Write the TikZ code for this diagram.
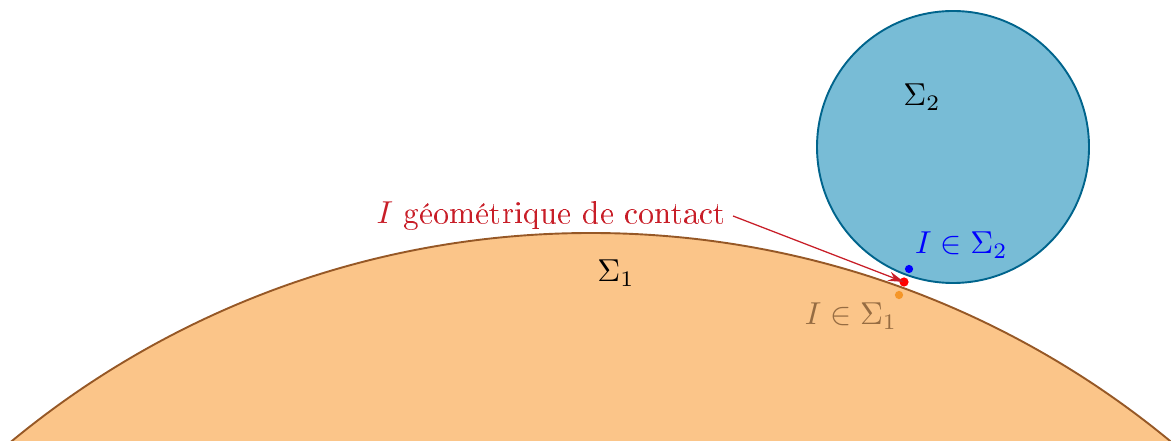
\documentclass[tikz,border=0pt]{standalone}
\usepackage[T1]{fontenc}
\usetikzlibrary{arrows.meta}

\definecolor{surfone}{RGB}{251,197,137}
\definecolor{edgeone}{RGB}{150,88,38}
\definecolor{surftwo}{RGB}{120,188,214}
\definecolor{edgetwo}{RGB}{0,100,140}
\definecolor{labone}{RGB}{150,108,66}
\definecolor{dotone}{RGB}{245,150,40}
\definecolor{labcontact}{RGB}{200,30,40}

\tikzset{
  pointdot/.style={circle, inner sep=0pt, minimum size=#1},
}

\begin{document}
\begin{tikzpicture}[x=0.3154pt, y=0.3154pt, >={Stealth[length=5pt, width=3pt]}]
        \useasboundingbox (0,0) rectangle (1171,441);
        \clip (0,0) rectangle (1171,441);
        % les deux solides
        \draw[edgeone, semithick, fill=surfone] (591,-702) circle[radius=910];
        \draw[edgetwo, semithick, fill=surftwo] (953,294) circle[radius=136];
        \node at (616,168) (sigone) {$\Sigma_1$};
        \node at (922,344) (sigtwo) {$\Sigma_2$};
        % points de contact
        \node[pointdot=2.6pt, fill=blue] at (909,172) (itwo) {};
        \node[pointdot=2.6pt, fill=dotone] at (899,146) (ione) {};
        \node[pointdot=2.9pt, fill=red] at (904,159) (igeo) {};
        \node[blue, anchor=west] at (904,196) (labtwo) {$I \in \Sigma_2$};
        \node[labone] at (851,125) (labone) {$I \in \Sigma_1$};
        \node[labcontact, anchor=east, inner sep=2pt] at (733,225) (labgeo) {$I$ géométrique de contact};
        \draw[->, labcontact] (labgeo.east) -- (igeo.center);
    \end{tikzpicture}
\end{document}
